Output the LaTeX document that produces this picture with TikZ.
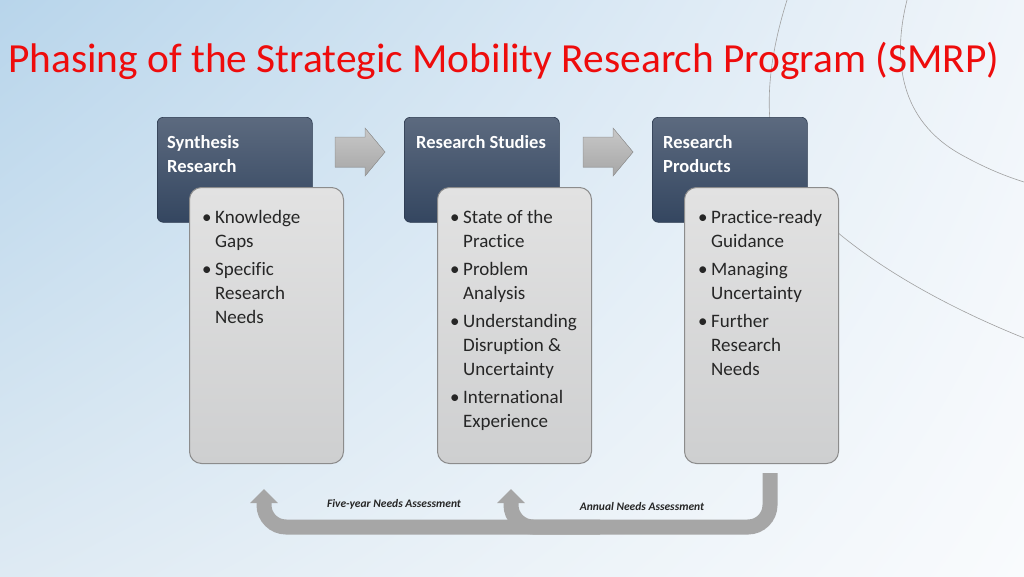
\documentclass[tikz,border=0pt]{standalone}
\usepackage{fontspec}
\setmainfont{Carlito}[Ligatures=NoCommon]
\usetikzlibrary{arrows.meta,shadings}
\definecolor{titlered}{RGB}{238,12,12}
\definecolor{bgA}{RGB}{184,213,235}
\definecolor{bgB}{RGB}{240,245,250}
\definecolor{bgC}{RGB}{222,234,243}
\definecolor{bgD}{RGB}{249,251,253}
\definecolor{hdrtop}{RGB}{92,106,127}
\definecolor{hdrbot}{RGB}{52,70,96}
\definecolor{bodytop}{RGB}{226,226,226}
\definecolor{bodybot}{RGB}{206,207,208}
\definecolor{bodyline}{RGB}{140,140,140}
\definecolor{bandgray}{RGB}{166,166,166}
\definecolor{arrtop}{RGB}{200,200,200}
\definecolor{arrbot}{RGB}{166,166,166}
\definecolor{curvegray}{RGB}{160,160,160}
\definecolor{txtdark}{RGB}{38,38,38}
\begin{document}
\begin{tikzpicture}[x=1pt,y=-1pt,
  hdrbox/.style={rounded corners=6pt, top color=hdrtop, bottom color=hdrbot, draw=hdrbot!80!black, line width=0.6pt, minimum width=155pt, minimum height=105pt, inner sep=0pt, anchor=north west},
  bodybox/.style={rounded corners=12pt, top color=bodytop, bottom color=bodybot, draw=bodyline, line width=1pt, minimum width=154pt, minimum height=276pt, inner sep=0pt, anchor=north west},
  hdrtxt/.style={text=white, font=\bfseries\fontsize{18.5}{24}\selectfont, inner sep=0pt, anchor=base west},
  bodytxt/.style={text=txtdark, font=\fontsize{19}{24}\selectfont, inner sep=0pt, anchor=base west},
  blockarrow/.style={top color=arrtop, bottom color=arrbot, draw=gray!80, line width=0.5pt},
  band/.style={draw=bandgray, line width=15pt, rounded corners=22pt, -{Triangle[width=27pt,length=14pt]}},
  lbl/.style={text=black!85, font=\bfseries\itshape\fontsize{11.5}{13}\selectfont, inner sep=0pt},
  deco/.style={draw=curvegray, line width=0.6pt}
]
\useasboundingbox (0,0) rectangle (1024,576);
\shade[upper left=bgA, upper right=bgB, lower left=bgC, lower right=bgD] (0,0) rectangle (1024,576);

% decorative curves
\draw[deco] (787,0) .. controls (768,60) and (762,120) .. (780,165) .. controls (800,210) and (880,280) .. (1024,338);
\draw[deco] (907,0) .. controls (892,60) and (900,120) .. (960,154) .. controls (985,168) and (1005,176) .. (1024,182);

% title
\node[anchor=base west, inner sep=0pt, text=titlered, font=\fontsize{41.4}{48}\selectfont] (title) at (8,72) {Phasing of the Strategic Mobility Research Program (SMRP)};

% header boxes
\node[hdrbox] (h1) at (157,117) {};
\node[hdrbox] (h2) at (404,117) {};
\node[hdrbox] (h3) at (652,117) {};

% body boxes
\node[bodybox] (b1) at (189,187) {};
\node[bodybox] (b2) at (437,187) {};
\node[bodybox] (b3) at (684,187) {};

% header texts
\node[hdrtxt] (h1t) at (167,148) {\begin{tabular}[t]{@{}l@{}}Synthesis\\Research\end{tabular}};
\node[hdrtxt] (h2t) at (416,148) {\begin{tabular}[t]{@{}l@{}}Research Studies\end{tabular}};
\node[hdrtxt] (h3t) at (663,148) {\begin{tabular}[t]{@{}l@{}}Research\\Products\end{tabular}};

% body texts
\node[bodytxt] (b1t) at (202,223) {\begin{tabular}[t]{@{}p{13pt}@{}l@{}}\textbullet & Knowledge\\ & Gaps\\[4pt] \textbullet & Specific\\ & Research\\ & Needs\end{tabular}};
\node[bodytxt] (b2t) at (450,223) {\begin{tabular}[t]{@{}p{13pt}@{}l@{}}\textbullet & State of the\\ & Practice\\[4pt] \textbullet & Problem\\ & Analysis\\[4pt] \textbullet & Understanding\\ & Disruption \&\\ & Uncertainty\\[4pt] \textbullet & International\\ & Experience\end{tabular}};
\node[bodytxt] (b3t) at (698,223) {\begin{tabular}[t]{@{}p{13pt}@{}l@{}}\textbullet & Practice-ready\\ & Guidance\\[4pt] \textbullet & Managing\\ & Uncertainty\\[4pt] \textbullet & Further\\ & Research\\ & Needs\end{tabular}};

% block arrows between phases
\filldraw[blockarrow] (335,137) -- (365,137) -- (365,128) -- (385,152) -- (365,176) -- (365,167) -- (335,167) -- cycle;
\filldraw[blockarrow] (583,137) -- (613,137) -- (613,128) -- (633,152) -- (613,176) -- (613,167) -- (583,167) -- cycle;

% feedback arrows
\coordinate (fyStart) at (600,527);
\coordinate (fyEnd) at (264,489);
\coordinate (anStart) at (770,473);
\coordinate (anEnd) at (511,489);
\draw[band] (fyStart) -- (fyStart -| fyEnd) -- (fyEnd);
\draw[band] (anStart) -- (anStart |- fyStart) -- (fyStart -| anEnd) -- (anEnd);

\node[lbl] (fy) at (394,504) {Five-year Needs Assessment};
\node[lbl] (an) at (642,506) {Annual Needs Assessment};
\end{tikzpicture}
\end{document}
